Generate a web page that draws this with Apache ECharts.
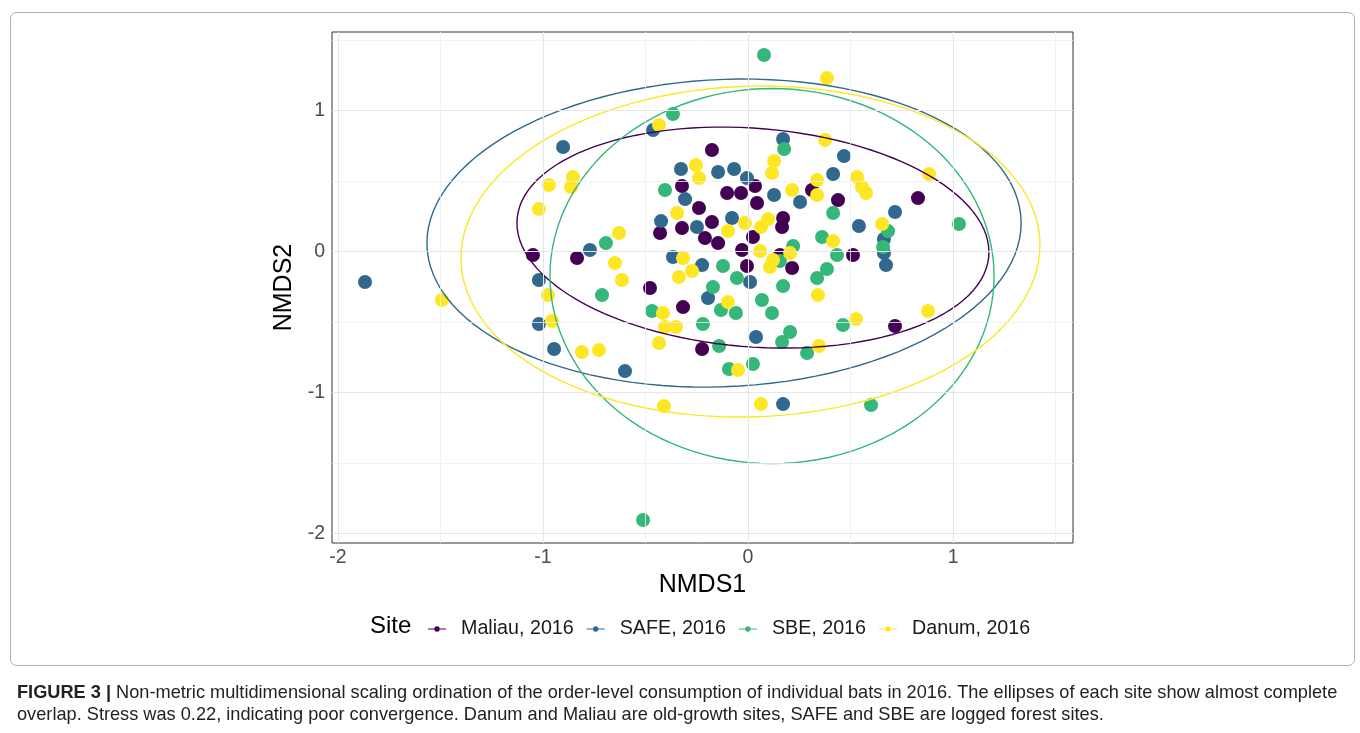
<!DOCTYPE html>
<html>
<head>
<meta charset="utf-8">
<script src="https://cdn.jsdelivr.net/npm/echarts@6/dist/echarts.min.js"></script>
<style>
html,body{margin:0;padding:0;background:#fff;}
#chart{width:1360px;height:733px;}
</style>
</head>
<body>
<div id="chart"></div>
<script>
// ---- Data (NMDS1, NMDS2) ----
const siteNames = ['Maliau, 2016', 'SAFE, 2016', 'SBE, 2016', 'Danum, 2016'];
const siteColors = ['#440154', '#31688E', '#35B779', '#FDE725'];

const maliau = [
  [-0.176,0.720],[-0.322,0.465],[-0.102,0.415],[-0.034,0.415],[0.034,0.465],[0.044,0.344],
  [-0.239,0.309],[-0.176,0.209],[-0.322,0.167],[-0.429,0.131],[-0.210,0.096],[-0.146,0.060],
  [0.024,0.103],[-0.029,0.011],[0.171,0.238],[0.166,0.174],[0.312,0.436],[0.439,0.365],
  [0.829,0.379],[0.512,-0.025],[0.156,-0.025],[0.215,-0.117],[-1.049,-0.025],[-0.834,-0.046],
  [-0.478,-0.259],[-0.317,-0.394],[-0.224,-0.691],[-0.005,-0.103],[0.717,-0.528]
];
const safe = [
  [-1.868,-0.216],[-0.902,0.741],[-1.020,-0.202],[-0.463,0.862],[0.171,0.798],[-0.327,0.585],
  [-0.146,0.564],[-0.068,0.585],[-0.005,0.521],[0.127,0.401],[-0.307,0.372],[-0.424,0.216],
  [-0.249,0.174],[-0.078,0.238],[0.254,0.351],[-0.771,0.011],[-0.366,-0.039],[-0.224,-0.096],
  [0.010,-0.216],[0.468,0.677],[0.415,0.550],[0.717,0.280],[0.541,0.181],[0.663,0.089],
  [0.663,-0.011],[0.673,-0.096],[-0.195,-0.330],[0.039,-0.606],[-0.600,-0.848],[-1.020,-0.514],
  [-0.946,-0.691],[0.171,-1.082]
];
const sbe = [
  [0.078,1.394],[-0.366,0.975],[0.176,0.727],[-0.405,0.436],[-0.693,0.060],[0.415,0.273],
  [0.361,0.103],[0.683,0.145],[0.659,0.032],[0.220,0.039],[0.434,-0.025],[1.029,0.195],
  [-0.122,-0.103],[-0.054,-0.188],[-0.171,-0.252],[0.156,-0.067],[0.171,-0.245],[0.385,-0.124],
  [0.337,-0.188],[-0.712,-0.309],[0.068,-0.344],[-0.468,-0.422],[-0.132,-0.415],[-0.059,-0.436],
  [0.117,-0.436],[-0.220,-0.514],[0.205,-0.571],[0.166,-0.642],[0.463,-0.521],[-0.141,-0.670],
  [0.288,-0.720],[-0.093,-0.833],[0.024,-0.798],[0.600,-1.089],[-0.512,-1.904]
];
const danum = [
  [0.385,1.230],[-0.434,0.897],[0.376,0.791],[0.127,0.642],[0.117,0.557],[-0.254,0.613],
  [-0.239,0.521],[0.215,0.436],[0.337,0.507],[0.337,0.401],[0.532,0.528],[0.556,0.457],
  [0.576,0.415],[0.883,0.550],[-0.854,0.528],[-0.971,0.472],[-0.863,0.457],[-1.020,0.301],
  [-0.346,0.273],[-0.629,0.131],[-0.015,0.202],[0.098,0.230],[0.063,0.174],[-0.098,0.145],
  [0.654,0.195],[0.415,0.074],[0.059,0.004],[0.205,-0.011],[0.122,-0.060],[0.107,-0.110],
  [-0.317,-0.046],[-0.273,-0.138],[-0.337,-0.181],[-0.649,-0.082],[-0.615,-0.202],[-1.493,-0.344],
  [-0.976,-0.309],[-0.956,-0.493],[-0.810,-0.713],[-0.727,-0.699],[-0.098,-0.358],[0.341,-0.309],
  [-0.415,-0.436],[-0.405,-0.535],[-0.351,-0.535],[-0.434,-0.649],[-0.049,-0.840],[0.346,-0.670],
  [0.527,-0.479],[0.878,-0.422],[-0.410,-1.096],[0.063,-1.082]
];
const siteData = [maliau, safe, sbe, danum];

// Ellipse parameters per site (stat_ellipse): centre, conjugate semi-axis (ax, ay), vertical half-chord k
const ellipseCentres = [[0.024,0.099],[-0.117,0.131],[0.117,-0.174],[0.012,0.000]];
const ellipseAxes    = [[1.151,-0.103],[1.449,0.071],[1.083,0.000],[1.412,0.046]];
const ellipseK       = [0.777, 1.090, 1.330, 1.173];

// Axis ticks
const xTicks = [-2, -1, 0, 1];
const yTicks = [-2, -1, 0, 1];
const xMinor = [-1.5, -0.5, 0.5, 1.5];
const yMinor = [-1.5, -0.5, 0.5, 1.5];

function ellipsePoints(i) {
  const pts = [];
  const [cx, cy] = ellipseCentres[i];
  const [ax, ay] = ellipseAxes[i];
  const k = ellipseK[i];
  const n = 120;
  for (let j = 0; j <= n; j++) {
    const t = 2 * Math.PI * j / n;
    pts.push([cx + ax * Math.cos(t), cy + ay * Math.cos(t) + k * Math.sin(t)]);
  }
  return pts;
}

const FONT = '"Liberation Sans", Arial, Helvetica, sans-serif';
const chart = echarts.init(document.getElementById('chart'), null, {renderer: 'canvas'});

const gridLineStyleMajor = {color: '#e6e6e6', width: 1.1, type: 'solid'};
const gridLineStyleMinor = {color: '#efefef', width: 0.8, type: 'solid'};

const series = [];
// grid lines
series.push({
  type: 'line', name: '_grid', data: [], silent: true, z: 0,
  markLine: {
    silent: true, symbol: ['none', 'none'], animation: false,
    label: {show: false},
    data: [
      ...xMinor.map(v => ({xAxis: v, lineStyle: gridLineStyleMinor})),
      ...yMinor.map(v => ({yAxis: v, lineStyle: gridLineStyleMinor})),
      ...xTicks.map(v => ({xAxis: v, lineStyle: gridLineStyleMajor})),
      ...yTicks.map(v => ({yAxis: v, lineStyle: gridLineStyleMajor}))
    ]
  }
});
siteData.forEach((d, i) => {
  series.push({
    type: 'scatter', name: siteNames[i], data: d, symbolSize: 14, z: 3,
    itemStyle: {color: siteColors[i], opacity: 1},
    emphasis: {disabled: true}
  });
});
siteData.forEach((d, i) => {
  series.push({
    type: 'line', name: siteNames[i] + ' ellipse', data: ellipsePoints(i),
    showSymbol: false, symbol: 'none', smooth: false, z: 4, silent: true,
    lineStyle: {color: siteColors[i], width: 1.4}
  });
});

const legendIcon = 'path://M0 9h40v2H0z M20 4a6 6 0 1 1 0 12a6 6 0 1 1 0-12z';

chart.setOption({
  animation: false,
  backgroundColor: '#fff',
  textStyle: {fontFamily: FONT},
  grid: {left: 332, right: 287, top: 32, bottom: 190, show: true, borderColor: '#333', borderWidth: 1, backgroundColor: 'transparent'},
  xAxis: {
    type: 'value', min: -2.029, max: 1.585,
    splitLine: {show: false}, axisLine: {show: false},
    axisTick: {show: true, customValues: xTicks, length: 5, lineStyle: {color: '#333'}},
    axisLabel: {customValues: xTicks, fontSize: 19.5, color: '#4d4d4d', margin: 5, fontFamily: FONT},
    name: 'NMDS1', nameLocation: 'middle', nameGap: 22,
    nameTextStyle: {fontSize: 25, color: '#000', fontFamily: FONT}
  },
  yAxis: {
    type: 'value', min: -2.067, max: 1.557,
    splitLine: {show: false}, axisLine: {show: false},
    axisTick: {show: true, customValues: yTicks, length: 5, lineStyle: {color: '#333'}},
    axisLabel: {customValues: yTicks, fontSize: 19.5, color: '#4d4d4d', margin: 7, fontFamily: FONT},
    name: 'NMDS2', nameLocation: 'middle', nameGap: 23, nameRotate: 90,
    nameTextStyle: {fontSize: 25, color: '#000', fontFamily: FONT}
  },
  legend: {
    data: siteNames, left: 423, top: 614, orient: 'horizontal',
    icon: legendIcon, itemWidth: 18, itemHeight: 10, itemGap: 13,
    selectedMode: false,
    textStyle: {fontSize: 19.7, color: '#1a1a1a', fontFamily: FONT, padding: [0, 0, 0, 10]}
  },
  graphic: [
    {type: 'rect', left: 8, top: 10, shape: {width: 1344, height: 653, r: 6}, silent: true,
     style: {fill: 'none', stroke: '#b0b0b0', lineWidth: 1}, z: -1},
    {type: 'text', left: 370, top: 614, silent: true,
     style: {text: 'Site', fontSize: 24, fill: '#000', fontFamily: FONT}},
    {type: 'text', left: 17, top: 682, silent: true,
     style: {
       text: '{b|FIGURE 3 |} Non-metric multidimensional scaling ordination of the order-level consumption of individual bats in 2016. The ellipses of each site show almost complete\noverlap. Stress was 0.22, indicating poor convergence. Danum and Maliau are old-growth sites, SAFE and SBE are logged forest sites.',
       fontSize: 18.2, fill: '#222', fontFamily: FONT, lineHeight: 22,
       rich: {b: {fontWeight: 'bold', fontSize: 18.2, fill: '#222', fontFamily: FONT, lineHeight: 22}}
     }}
  ],
  series: series
});
</script>
</body>
</html>
